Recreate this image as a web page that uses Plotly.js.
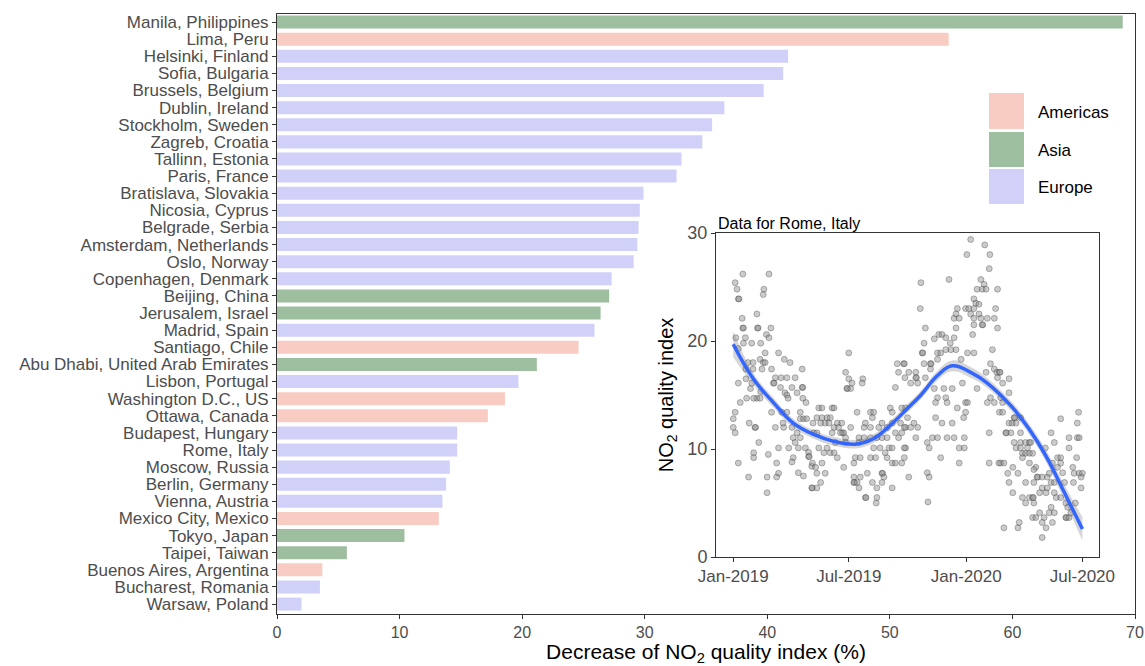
<!DOCTYPE html>
<html><head><meta charset="utf-8">
<script src="https://cdn.plot.ly/plotly-3.0.1.min.js"></script>
<style>html,body{margin:0;padding:0;background:#fff}#chart{width:1145px;height:666px}</style>
</head><body><div id="chart"></div>
<script>
// ---- bar chart data ----
const cities = ["Manila, Philippines","Lima, Peru","Helsinki, Finland","Sofia, Bulgaria","Brussels, Belgium","Dublin, Ireland","Stockholm, Sweden","Zagreb, Croatia","Tallinn, Estonia","Paris, France","Bratislava, Slovakia","Nicosia, Cyprus","Belgrade, Serbia","Amsterdam, Netherlands","Oslo, Norway","Copenhagen, Denmark","Beijing, China","Jerusalem, Israel","Madrid, Spain","Santiago, Chile","Abu Dhabi, United Arab Emirates","Lisbon, Portugal","Washington D.C., US","Ottawa, Canada","Budapest, Hungary","Rome, Italy","Moscow, Russia","Berlin, Germany","Vienna, Austria","Mexico City, Mexico","Tokyo, Japan","Taipei, Taiwan","Buenos Aires, Argentina","Bucharest, Romania","Warsaw, Poland"];
const regions = ["Asia","Americas","Europe","Europe","Europe","Europe","Europe","Europe","Europe","Europe","Europe","Europe","Europe","Europe","Europe","Europe","Asia","Asia","Europe","Americas","Asia","Europe","Americas","Americas","Europe","Europe","Europe","Europe","Europe","Americas","Asia","Asia","Americas","Europe","Europe"];
const decrease = [69.0,54.8,41.7,41.3,39.7,36.5,35.5,34.7,33.0,32.6,29.9,29.6,29.5,29.4,29.1,27.3,27.1,26.4,25.9,24.6,21.2,19.7,18.6,17.2,14.7,14.7,14.1,13.8,13.5,13.2,10.4,5.7,3.7,3.5,2.0];
const regionNames = ["Americas","Asia","Europe"];
const regionColors = ["#F8CCC2","#9EBEA0","#D0D0F8"];
const xTicks = [0,10,20,30,40,50,60,70];

// ---- inset: Rome daily NO2 index, [days since 2019-01-01, value] ----
const romeObs = [
[15,26.2],[56,26.2],[3,25.4],[6,24.8],[48,24.8],[47,24.3],[8,23.9],[9,23.9],[37,22.5],[14,22.1],[15,21.2],[16,21.2],[38,21.2],[39,21.2],[59,21.2],[52,20.6],[56,20.3],[4,20.3],[19,20.3],[16,19.8],[29,19.8],[43,19.8],[8,19.3],[50,18.9],[71,18.9],[42,18.3],[47,18.0],[80,18.3],[89,18.0],[23,18.0],[31,18.0],[50,18.0],[20,17.4],[31,17.4],[45,17.4],[60,17.4],[108,17.4],[66,16.6],[75,16.6],[84,16.6],[97,16.6],[63,16.1],[64,16.1],[8,16.1],[20,16.5],[27,15.6],[29,16.1],[92,15.7],[108,15.7],[109,15.7],[74,15.7],[81,15.2],[84,15.0],[86,14.7],[43,15.3],[37,14.7],[21,14.7],[32,14.7],[42,14.7],[100,15.2],[109,14.7],[114,14.3],[11,14.3],[60,13.4],[76,13.4],[84,13.4],[105,13.4],[105,12.8],[110,12.8],[115,12.8],[3,13.4],[0,12.8],[0,12.0],[3,11.5],[34,12.0],[35,12.0],[66,12.0],[79,12.0],[92,12.0],[25,12.4],[78,12.4],[100,11.5],[94,11.05],[105,11.05],[97,10.6],[40,10.6],[71,10.1],[87,10.1],[102,10.1],[113,10.1],[118,9.7],[118,9.3],[119,9.3],[32,9.65],[32,9.2],[55,9.5],[94,9.2],[92,8.8],[8,8.7],[68,8.7],[123,8.4],[24,7.4],[53,7.4],[71,7.75],[68,7.4],[102,7.8],[110,7.5],[123,6.4],[124,6.4],[53,5.95],
[181,18.9],[176,17.1],[181,16.5],[178,15.6],[179,15.6],[184,15.6],[186,16.1],[203,16.5],[202,16.1],[257,17.9],[267,17.9],[259,17.1],[269,16.6],[254,15.7],[134,13.8],[139,13.8],[155,13.8],[158,13.8],[246,13.8],[249,13.4],[264,13.8],[270,13.8],[131,12.9],[139,12.9],[147,12.9],[152,12.9],[125,12.4],[137,12.4],[144,12.4],[150,12.4],[163,12.4],[170,12.4],[158,12.0],[165,12.0],[171,11.5],[173,11.5],[194,13.4],[215,13.4],[218,12.9],[220,13.4],[184,12.0],[205,12.0],[207,12.4],[215,12.0],[228,12.0],[233,12.4],[241,12.0],[249,12.4],[262,12.4],[270,12.0],[126,11.5],[131,11.5],[155,11.5],[168,11.5],[176,11.05],[197,11.05],[205,11.05],[215,11.05],[225,11.05],[233,11.05],[241,11.05],[254,11.5],[259,11.05],[264,11.5],[134,10.1],[147,10.1],[160,10.6],[176,10.6],[197,10.6],[220,10.1],[230,10.1],[244,10.1],[249,10.1],[270,10.1],[142,9.65],[152,9.65],[158,9.65],[163,9.2],[191,9.2],[199,9.2],[215,9.2],[223,9.2],[238,9.65],[241,9.2],[124,8.7],[139,8.7],[173,8.3],[189,8.7],[249,8.7],[254,8.7],[264,8.7],[129,8.3],[131,7.75],[144,7.75],[210,7.75],[233,7.75],[234,7.75],[236,7.4],[189,7.4],[189,6.9],[190,6.9],[194,6.9],[199,7.4],[218,6.9],[233,6.9],[131,6.4],[137,6.9],[225,6.4],[249,6.4],[197,6.4],[207,5.5],[208,5.5],[225,5.5],[224,5.0],
[372,29.4],[394,28.9],[402,28.0],[366,28.0],[401,26.7],[338,25.7],[294,25.4],[388,25.7],[393,25.25],[390,24.8],[396,24.8],[382,24.8],[414,24.8],[377,23.9],[380,23.5],[385,23.4],[293,23.0],[351,23.0],[364,23.0],[369,23.0],[377,23.0],[411,23.0],[346,22.1],[349,22.5],[354,22.1],[372,22.5],[377,22.1],[385,22.5],[388,22.1],[398,22.1],[409,22.1],[377,21.5],[390,21.5],[391,21.5],[301,21.2],[349,21.2],[414,21.2],[322,20.6],[327,20.6],[333,20.3],[346,20.3],[375,20.6],[299,19.8],[315,20.2],[340,19.8],[341,19.2],[333,19.2],[349,19.2],[367,18.9],[377,18.9],[406,19.2],[296,18.9],[297,18.9],[320,18.9],[325,18.9],[299,17.9],[309,17.9],[310,17.9],[320,18.3],[268,17.9],[309,17.4],[357,18.3],[403,17.9],[409,17.4],[413,17.1],[275,17.1],[286,17.1],[286,16.6],[287,16.6],[278,16.1],[289,16.1],[301,16.6],[396,17.1],[359,16.1],[315,15.6],[330,15.6],[343,15.6],[382,15.6],[403,14.75],[320,14.75],[333,14.75],[317,14.3],[335,14.3],[364,14.3],[367,14.3],[398,14.3],[409,14.3],[351,13.8],[361,12.9],[364,13.4],[317,12.9],[327,12.4],[343,12.4],[283,12.4],[273,12.9],[268,12.0],[289,12.0],[278,12.0],[401,11.5],[312,11.05],[320,11.05],[335,11.05],[346,11.05],[362,11.05],[286,11.05],[304,10.6],[307,10.1],[354,10.1],[362,10.1],[268,10.1],[268,9.2],[325,9.2],[354,8.7],[401,8.7],[416,8.7],[275,7.4],[304,7.8],[307,7.4],[305,5.1],
[417,17.1],[418,17.1],[414,16.6],[432,16.5],[422,16.1],[432,15.2],[419,14.75],[422,14.3],[417,13.4],[422,13.4],[440,12.9],[441,12.9],[432,12.4],[437,12.4],[443,12.4],[450,12.9],[513,12.8],[541,13.4],[539,12.4],[427,11.5],[428,11.5],[435,11.5],[450,11.5],[498,11.5],[503,10.6],[526,11.05],[539,11.05],[542,11.05],[440,10.6],[450,10.6],[458,10.6],[464,10.6],[443,10.1],[450,10.1],[461,10.1],[466,10.6],[453,9.6],[458,9.6],[464,9.6],[469,9.6],[453,9.2],[489,10.1],[526,10.1],[538,9.2],[508,9.2],[513,9.2],[419,8.7],[424,8.7],[464,8.7],[474,8.3],[430,7.75],[446,7.75],[438,8.3],[471,8.1],[476,7.4],[477,7.4],[484,7.4],[492,7.4],[495,7.75],[500,8.7],[508,8.3],[513,8.7],[516,7.8],[532,8.3],[534,7.75],[542,7.75],[547,7.75],[545,7.4],[432,6.9],[458,6.9],[471,6.9],[484,6.4],[492,6.4],[498,6.9],[503,6.9],[519,6.9],[533,6.9],[438,5.95],[453,5.5],[464,5.5],[469,5.5],[470,5.5],[480,5.95],[490,5.95],[503,5.95],[506,5.5],[513,5.5],[521,5.0],[536,5.0],[545,6.4],[458,5.0],[471,5.0],[498,4.6],[480,4.1],[495,4.1],[503,4.1],[524,4.6],[469,3.65],[474,3.65],[487,3.65],[521,3.65],[522,3.65],[526,3.65],[529,4.1],[424,2.7],[446,2.7],[448,3.2],[484,3.2],[490,2.7],[500,3.2],[484,1.8]
];
// smoothed curve
const smoothDay = [0,32,63,94,128,155,191,218,244,272,294,320,343,372,398,438,464,490,516,547];
const smoothVal = [19.7,16.45,14.3,12.4,11.3,10.75,10.45,10.9,12.1,13.7,15.0,16.8,17.7,17.1,16.1,13.8,11.8,9.35,6.3,2.6];
const smoothHalfWidth = [1.2,0.55,0.45,0.4,0.4,0.4,0.4,0.4,0.4,0.4,0.4,0.45,0.5,0.5,0.45,0.45,0.5,0.55,0.7,1.1];
const insetTickVals = ["2019-01-01","2019-07-01","2020-01-01","2020-07-01"];
const insetTickText = ["Jan-2019","Jul-2019","Jan-2020","Jul-2020"];

function dayToDate(d){ return new Date(Date.UTC(2019,0,1) + d*86400000).toISOString().slice(0,10); }

const FONT = "Liberation Sans, Arial, sans-serif";
const TICKC = "#4D4D4D";

const barTrace = {
  type: "bar", orientation: "h",
  y: cities, x: decrease,
  marker: { color: regions.map(r => regionColors[regionNames.indexOf(r)]), line: {width: 0} },
  hoverinfo: "x+y", showlegend: false, xaxis: "x", yaxis: "y"
};
const bandLow = {
  type: "scatter", mode: "lines", x: smoothDay.map(dayToDate),
  y: smoothVal.map((v,i) => v - smoothHalfWidth[i]),
  line: {width: 0, shape: "spline", smoothing: 1.2, color: "rgba(0,0,0,0)"}, xaxis: "x2", yaxis: "y2", showlegend: false, hoverinfo: "skip"
};
const bandHigh = {
  type: "scatter", mode: "lines", x: smoothDay.map(dayToDate),
  y: smoothVal.map((v,i) => v + smoothHalfWidth[i]),
  fill: "tonexty", fillcolor: "rgba(153,153,153,0.4)",
  line: {width: 0, shape: "spline", smoothing: 1.2, color: "rgba(0,0,0,0)"}, xaxis: "x2", yaxis: "y2", showlegend: false, hoverinfo: "skip"
};
const pts = {
  type: "scatter", mode: "markers",
  x: romeObs.map(p => dayToDate(p[0])), y: romeObs.map(p => p[1]),
  marker: {size: 6, color: "rgba(140,140,140,0.45)", line: {color: "rgba(40,40,40,0.45)", width: 0.7}},
  xaxis: "x2", yaxis: "y2", showlegend: false
};
const smooth = {
  type: "scatter", mode: "lines", x: smoothDay.map(dayToDate), y: smoothVal,
  line: {color: "#3366FF", width: 3.5, shape: "spline", smoothing: 1.2}, xaxis: "x2", yaxis: "y2", showlegend: false
};

const px0 = 277, pw = 858, py0 = 14, ph = 600;
const toPX = x => (x - px0)/pw;
const toPY = y => (py0 + ph - y)/ph;

const shapes = [], annotations = [];
const legendBoxes = [[93,129],[132,167],[169,204]];
regionNames.forEach((name,i) => {
  const [t,b] = legendBoxes[i];
  shapes.push({type:"rect", xref:"paper", yref:"paper", x0: toPX(989), x1: toPX(1024), y0: toPY(b), y1: toPY(t),
    fillcolor: regionColors[i], line:{width:0}, layer:"above"});
  annotations.push({xref:"paper", yref:"paper", x: toPX(1036), y: toPY((t+b)/2 + 1), xanchor:"left", yanchor:"middle",
    text: name, showarrow:false, font:{family:FONT, size:17, color:"#000"}});
});
annotations.push({xref:"paper", yref:"paper", x: toPX(716), y: toPY(234), xanchor:"left", yanchor:"bottom",
  text:"Data for Rome, Italy", showarrow:false, font:{family:FONT, size:16, color:"#000"}});

const axisCommon = {showline:true, mirror:true, linecolor:"#333", linewidth:1, ticks:"outside", ticklen:4, tickcolor:"#333",
  showgrid:false, zeroline:false, tickfont:{family:FONT, size:16, color:TICKC}};

const layout = {
  width:1145, height:666, margin:{l:px0, r:1145-px0-pw, t:py0, b:666-py0-ph},
  paper_bgcolor:"#fff", plot_bgcolor:"#fff", bargap:0.24, font:{family:FONT},
  xaxis: Object.assign({}, axisCommon, {domain:[0,1], range:[0,70], tickvals:xTicks, anchor:"y",
    title:{text:"Decrease of NO<sub>2</sub> quality index (%)", font:{family:FONT, size:21, color:"#000"}, standoff:4}}),
  yaxis: Object.assign({}, axisCommon, {type:"category", categoryorder:"array", categoryarray:cities,
    tickmode:"array", tickvals:cities, ticktext:cities,
    range:[34.58,-0.47], anchor:"x", tickfont:{family:FONT, size:17, color:TICKC}}),
  xaxis2: Object.assign({}, axisCommon, {domain:[toPX(716), toPX(1099)], anchor:"y2", type:"date",
    range:["2018-12-05","2020-07-27"], tickvals:insetTickVals, ticktext:insetTickText, tickfont:{family:FONT, size:17, color:TICKC}}),
  yaxis2: Object.assign({}, axisCommon, {domain:[toPY(557), toPY(233)], anchor:"x2", range:[0,30], tickvals:[0,10,20,30],
    tickfont:{family:FONT, size:18, color:TICKC},
    title:{text:"NO<sub>2</sub> quality index", font:{family:FONT, size:20, color:"#000"}, standoff:8}}),
  shapes: shapes, annotations: annotations
};

Plotly.newPlot("chart", [barTrace, bandLow, bandHigh, pts, smooth], layout, {displayModeBar:false, staticPlot:true});
</script></body></html>
